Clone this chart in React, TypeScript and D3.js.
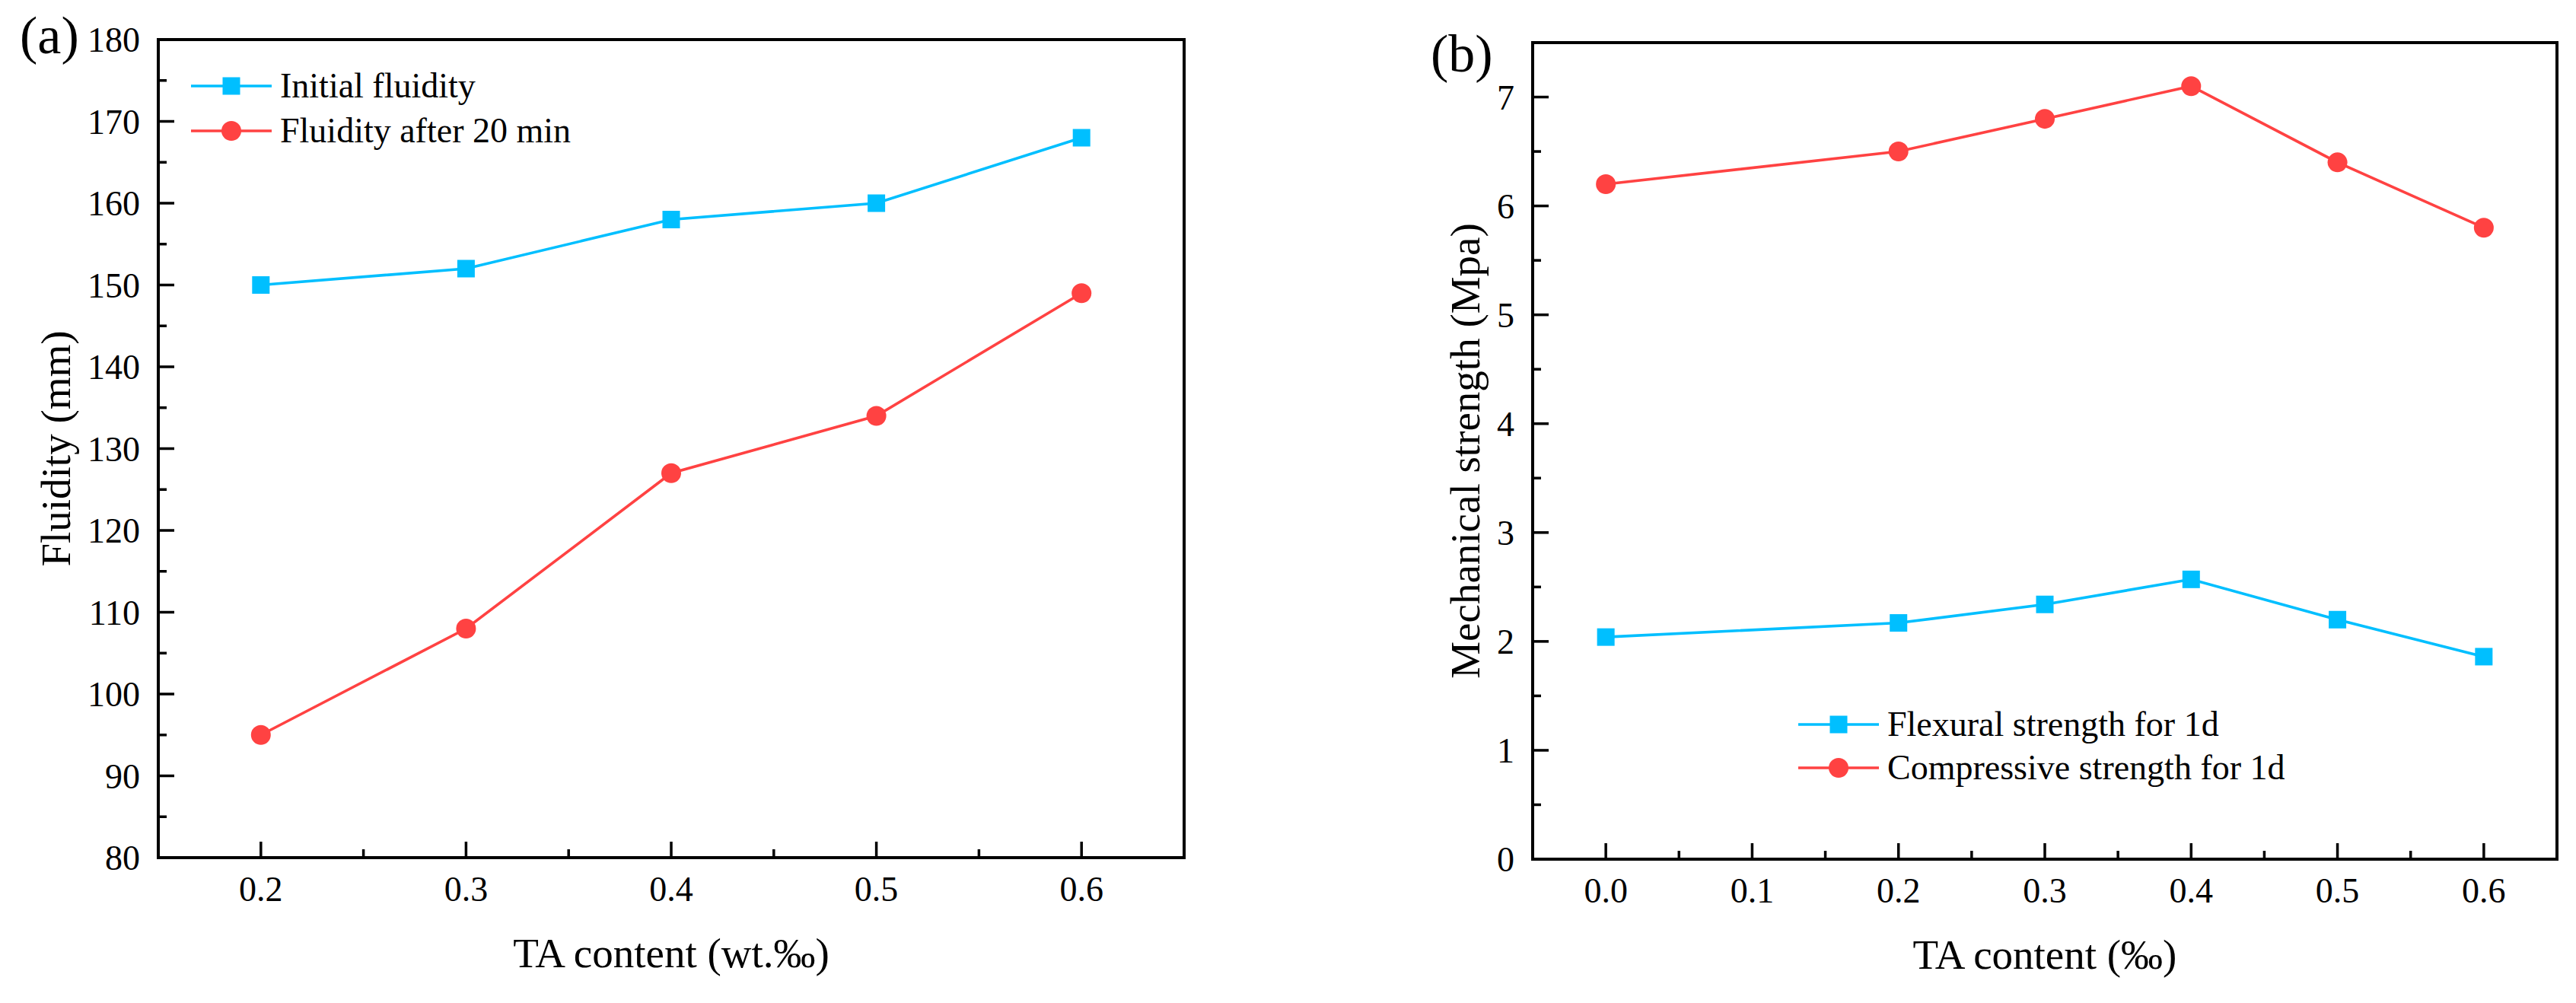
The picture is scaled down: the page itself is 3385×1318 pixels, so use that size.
import React from 'react';
import * as d3 from 'd3';

// ---------- data ----------
const taContentA = [0.2, 0.3, 0.4, 0.5, 0.6];
const initialFluidity = [150, 152, 158, 160, 168];
const fluidityAfter20 = [95, 108, 127, 134, 149];

const taContentB = [0.0, 0.2, 0.3, 0.4, 0.5, 0.6];
const flexural1d = [2.04, 2.17, 2.34, 2.57, 2.2, 1.86];
const compressive1d = [6.2, 6.5, 6.8, 7.1, 6.4, 5.8];

const xTicksA = [0.2, 0.3, 0.4, 0.5, 0.6];
const yTicksA = [80, 90, 100, 110, 120, 130, 140, 150, 160, 170, 180];
const xTicksB = [0.0, 0.1, 0.2, 0.3, 0.4, 0.5, 0.6];
const yTicksB = [0, 1, 2, 3, 4, 5, 6, 7];

const seriesNamesA = ['Initial fluidity', 'Fluidity after 20 min'];
const seriesNamesB = ['Flexural strength for 1d', 'Compressive strength for 1d'];

const CYAN = '#00BFFF';
const RED = '#FF4242';
const FONT = '"Liberation Serif", "Times New Roman", serif';

type Series = { name: string; x: number[]; y: number[]; color: string; marker: 'square' | 'circle' };

type PanelProps = {
  left: number; right: number; top: number; bottom: number;
  xDomain: [number, number]; yDomain: [number, number];
  xTicks: number[]; yTicks: number[];
  xFmt: (v: number) => string; yFmt: (v: number) => string;
  xLabel: string; yLabel: string; yLabelX: number;
  tag: string; tagX: number; tagY: number;
  series: Series[];
  legendLine: [number, number]; legendTextX: number; legendRows: number[];
};

const Marker = ({ kind, cx, cy, color }: { kind: string; cx: number; cy: number; color: string }) =>
  kind === 'square' ? (
    <rect x={cx - 11.5} y={cy - 11.5} width={23} height={23} fill={color} />
  ) : (
    <circle cx={cx} cy={cy} r={13} fill={color} />
  );

function midpoints(t: number[]) {
  const out: number[] = [];
  for (let i = 0; i < t.length - 1; i++) out.push((t[i] + t[i + 1]) / 2);
  return out;
}

function Panel(p: PanelProps) {
  const x = d3.scaleLinear().domain(p.xDomain).range([p.left, p.right]);
  const y = d3.scaleLinear().domain(p.yDomain).range([p.bottom, p.top]);
  const line = d3.line<[number, number]>().x((d) => x(d[0])).y((d) => y(d[1]));
  const xMinor = midpoints(p.xTicks);
  const yMinor = midpoints(p.yTicks).concat(
    p.yDomain[1] > p.yTicks[p.yTicks.length - 1] ? [] : []
  );
  const major = 21;
  const minor = 11;
  const axisW = 4;
  return (
    <g fontFamily={FONT} fill="#000">
      {/* series */}
      {p.series.map((s) => {
        const pts = s.x.map((v, i) => [v, s.y[i]] as [number, number]);
        return (
          <g key={s.name}>
            <path d={line(pts) || ''} fill="none" stroke={s.color} strokeWidth={3.6} />
            {pts.map((d, i) => (
              <Marker key={i} kind={s.marker} cx={x(d[0])} cy={y(d[1])} color={s.color} />
            ))}
          </g>
        );
      })}
      {/* frame */}
      <rect x={p.left} y={p.top} width={p.right - p.left} height={p.bottom - p.top} fill="none" stroke="#000" strokeWidth={axisW} />
      {/* x ticks */}
      {p.xTicks.map((t) => (
        <g key={'xt' + t}>
          <line x1={x(t)} x2={x(t)} y1={p.bottom} y2={p.bottom - major} stroke="#000" strokeWidth={3.5} />
          <text x={x(t)} y={p.bottom + 57} fontSize={46} textAnchor="middle">{p.xFmt(t)}</text>
        </g>
      ))}
      {xMinor.map((t) => (
        <line key={'xm' + t} x1={x(t)} x2={x(t)} y1={p.bottom} y2={p.bottom - minor} stroke="#000" strokeWidth={3.5} />
      ))}
      {/* y ticks */}
      {p.yTicks.map((t) => (
        <g key={'yt' + t}>
          <line x1={p.left} x2={p.left + major} y1={y(t)} y2={y(t)} stroke="#000" strokeWidth={3.5} />
          <text x={p.left - 24} y={y(t)} dy="0.35em" fontSize={46} textAnchor="end">{p.yFmt(t)}</text>
        </g>
      ))}
      {yMinor.map((t) => (
        <line key={'ym' + t} x1={p.left} x2={p.left + minor} y1={y(t)} y2={y(t)} stroke="#000" strokeWidth={3.5} />
      ))}
      {/* axis labels */}
      <text x={(p.left + p.right) / 2} y={p.bottom + 144} fontSize={55} textAnchor="middle">{p.xLabel}</text>
      <text transform={`translate(${p.yLabelX},${(p.top + p.bottom) / 2}) rotate(-90)`} fontSize={55} textAnchor="middle">{p.yLabel}</text>
      {/* panel tag */}
      <text x={p.tagX} y={p.tagY} fontSize={70}>{p.tag}</text>
      {/* legend */}
      {p.series.map((s, i) => (
        <g key={'lg' + i}>
          <line x1={p.legendLine[0]} x2={p.legendLine[1]} y1={p.legendRows[i]} y2={p.legendRows[i]} stroke={s.color} strokeWidth={3.6} />
          <Marker kind={s.marker} cx={(p.legendLine[0] + p.legendLine[1]) / 2} cy={p.legendRows[i]} color={s.color} />
          <text x={p.legendTextX} y={p.legendRows[i]} dy="0.33em" fontSize={46}>{s.name}</text>
        </g>
      ))}
    </g>
  );
}

export default function App() {
  const f1 = d3.format('.1f');
  const f0 = d3.format('d');
  return (
    <svg width={3385} height={1318} style={{ position: 'absolute', left: 0, top: 0, background: '#fff' }}>
      <rect width={3385} height={1318} fill="#fff" />
      <Panel
        left={208} right={1556} top={52} bottom={1127}
        xDomain={[0.15, 0.65]} yDomain={[80, 180]}
        xTicks={xTicksA} yTicks={yTicksA}
        xFmt={f1} yFmt={f0}
        xLabel="TA content (wt.‰)" yLabel="Fluidity (mm)" yLabelX={92}
        tag="(a)" tagX={26} tagY={70}
        series={[
          { name: seriesNamesA[0], x: taContentA, y: initialFluidity, color: CYAN, marker: 'square' },
          { name: seriesNamesA[1], x: taContentA, y: fluidityAfter20, color: RED, marker: 'circle' },
        ]}
        legendLine={[251, 357]} legendTextX={368} legendRows={[113, 172]}
      />
      <Panel
        left={2014} right={3360} top={56} bottom={1129}
        xDomain={[-0.05, 0.65]} yDomain={[0, 7.5]}
        xTicks={xTicksB} yTicks={yTicksB}
        xFmt={f1} yFmt={f0}
        xLabel="TA content (‰)" yLabel="Mechanical strength (Mpa)" yLabelX={1944}
        tag="(b)" tagX={1880} tagY={94}
        series={[
          { name: seriesNamesB[0], x: taContentB, y: flexural1d, color: CYAN, marker: 'square' },
          { name: seriesNamesB[1], x: taContentB, y: compressive1d, color: RED, marker: 'circle' },
        ]}
        legendLine={[2363, 2469]} legendTextX={2480} legendRows={[952, 1009]}
      />
    </svg>
  );
}
